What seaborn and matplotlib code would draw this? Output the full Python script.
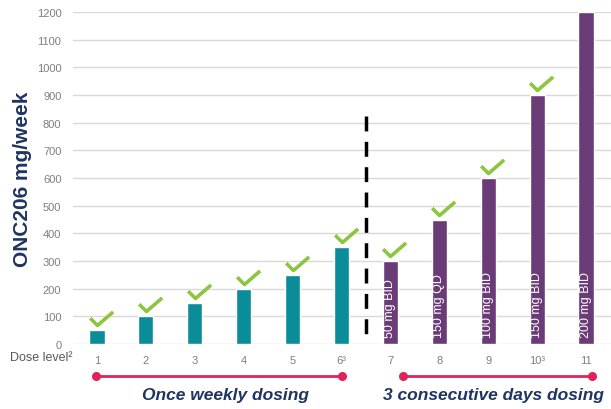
import numpy as np
import pandas as pd
import matplotlib
matplotlib.use("Agg")
import matplotlib.pyplot as plt
import seaborn as sns
from matplotlib.path import Path
from matplotlib.transforms import blended_transform_factory

# dose escalation data
dose_labels = ["1", "2", "3", "4", "5", "6\u00b3", "7", "8", "9", "10\u00b3", "11"]
dose_mg_week = [50, 100, 150, 200, 250, 350, 300, 450, 600, 900, 1200]
schedule = ["weekly"] * 6 + ["3 days"] * 5
cleared = [True] * 10 + [False]
bar_text = ["", "", "", "", "", "", "50 mg BID", "150 mg QD", "100 mg BID", "150 mg BID", "200 mg BID"]

df = pd.DataFrame({"dose": dose_labels, "mg": dose_mg_week, "schedule": schedule})

teal = "#0B8C99"
purple = "#6A3B77"
green = "#8CC63F"
red = "#E0235A"
navy = "#1F3461"

sns.set_style("white")
plt.rcParams["font.family"] = ["Liberation Sans", "DejaVu Sans"]

fig = plt.figure(figsize=(6.11, 4.10), dpi=100)
ax = fig.add_axes([72.5 / 611, 1 - 345 / 410, 538 / 611, 332 / 410])

sns.barplot(data=df, x="dose", y="mg", hue="schedule", order=dose_labels,
            palette={"weekly": teal, "3 days": purple}, dodge=False,
            width=0.31, saturation=1, legend=False, ax=ax)

ax.set_ylim(0, 1200)
ax.set_xlim(-0.5, 10.5)
ax.set_yticks(np.arange(0, 1201, 100))
ax.yaxis.grid(True, color="#D9D9D9", linewidth=1)
ax.set_axisbelow(True)
sns.despine(ax=ax, left=True, bottom=True, top=True, right=True)
ax.tick_params(axis="both", length=0, labelsize=8, colors="#7F7F7F")
ax.tick_params(axis="y", pad=8)
ax.tick_params(axis="x", pad=8)
ax.set_xlabel("")
ax.set_ylabel("ONC206 mg/week", fontsize=15, fontweight="bold", color=navy, labelpad=3)

# check marks above cleared doses
check = Path([(-7, 7), (0, 0), (15, 13)], [Path.MOVETO, Path.LINETO, Path.LINETO])
for i, (v, ok) in enumerate(zip(dose_mg_week, cleared)):
    if ok:
        ax.plot(i, v + 18, marker=check, markersize=22.5, markerfacecolor="none",
                markeredgecolor=green, markeredgewidth=2.6, clip_on=False)
    if bar_text[i]:
        ax.text(i, 26, bar_text[i], rotation=90, ha="center", va="bottom",
                color="white", fontsize=9)

# separator between schedules (drawn top-down so it starts with a full dash)
ax.plot([5.5, 5.5], [824, 0], color="black", linewidth=2.5, dashes=(4.3, 3.0))

# schedule brackets below the axis
tr = blended_transform_factory(ax.transData, ax.transAxes)
for x0, x1, label, xc in [(-0.02, 5.01, "Once weekly dosing", 2.62),
                          (6.26, 10.12, "3 consecutive days dosing", 8.1)]:
    ax.plot([x0, x1], [-0.097, -0.097], color=red, linewidth=2, marker="o",
            markersize=5.5, transform=tr, clip_on=False)
    ax.text(xc, -0.152, label, transform=tr, ha="center", va="center",
            fontsize=12.5, fontweight="bold", fontstyle="italic", color=navy)

fig.text(73 / 611, 1 - 358 / 410, "Dose level\u00b2", ha="right", va="center",
         fontsize=9, color="#595959")

fig.savefig("out.png", dpi=100)
